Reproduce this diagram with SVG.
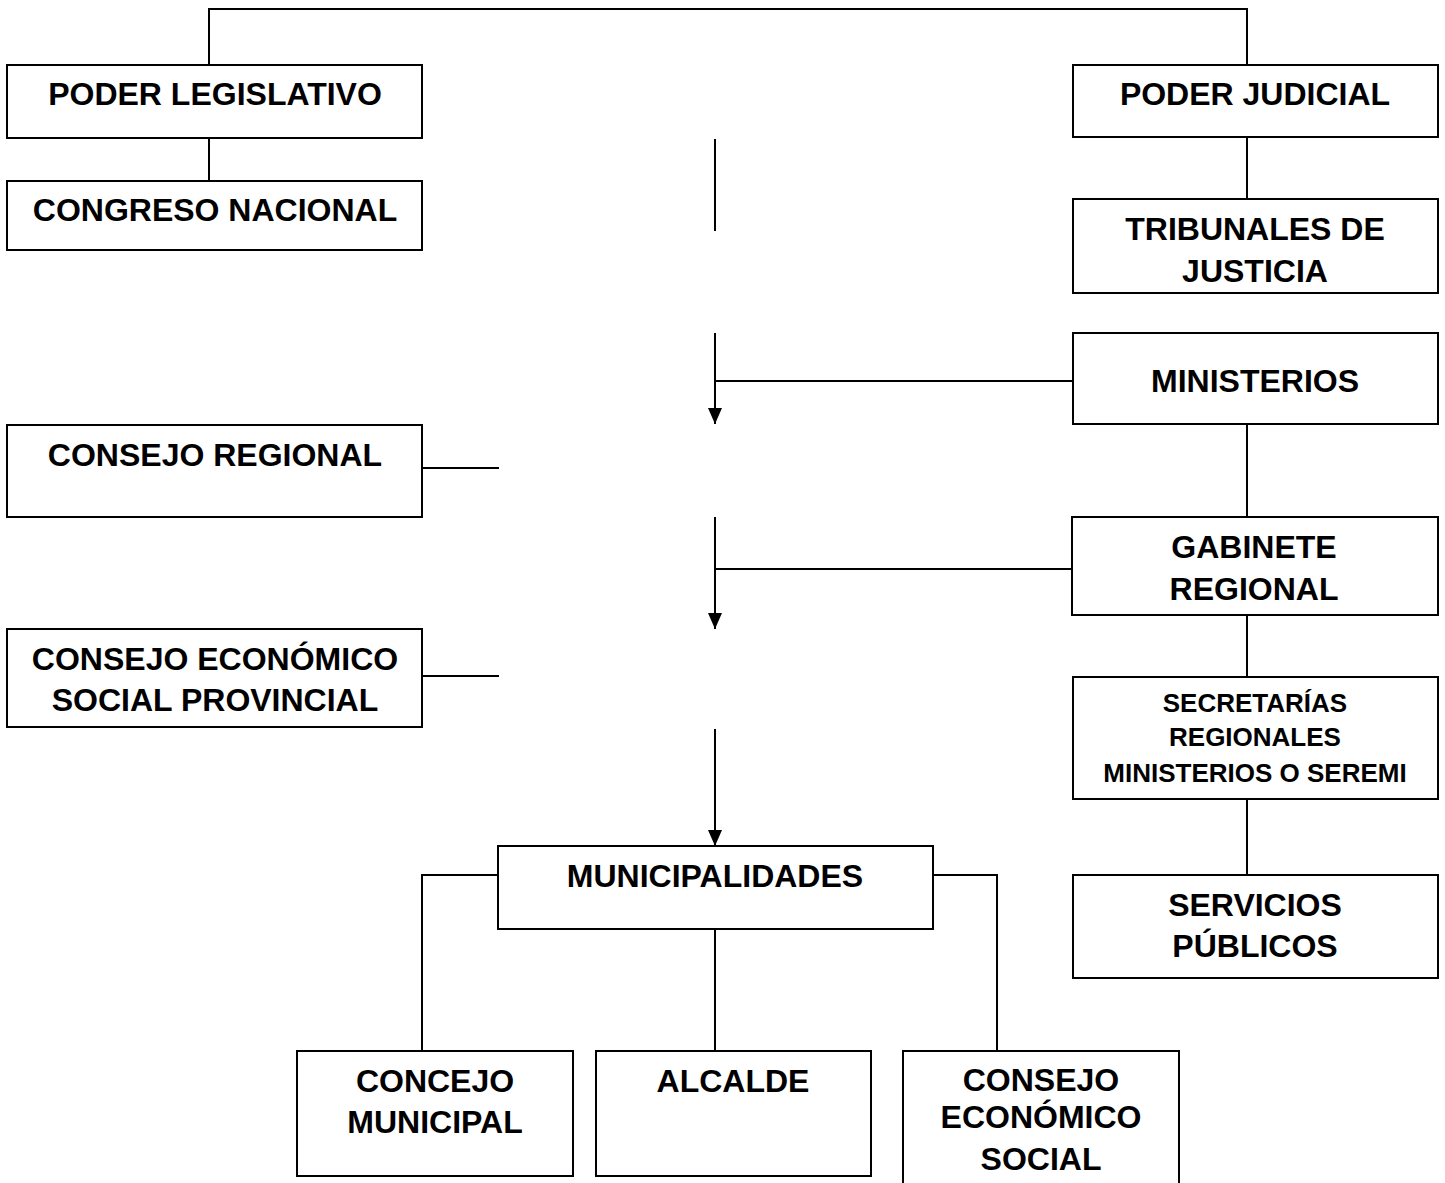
<svg xmlns="http://www.w3.org/2000/svg" width="1445" height="1183" viewBox="0 0 1445 1183">
<style>
.box{fill:#fff;stroke:#000;stroke-width:2}
.ln{fill:none;stroke:#000;stroke-width:2}
.t{font-family:"Liberation Sans",Arial,sans-serif;font-weight:bold;font-size:32px;text-anchor:middle;fill:#000}
.s{font-size:26px}
</style>
<defs>
<marker id="arr" viewBox="0 0 16 14" markerWidth="16" markerHeight="14" refX="16" refY="7" orient="auto" markerUnits="userSpaceOnUse">
<path d="M0,0 L16,7 L0,14 z" fill="#000"/>
</marker>
</defs>
<rect width="1445" height="1183" fill="#fff"/>
<g id="connectors">
<path class="ln" d="M209,65 V9 H1247 V65"/>
<path class="ln" d="M209,138 V181"/>
<path class="ln" d="M1247,137 V199"/>
<path class="ln" d="M715,139 V231"/>
<path class="ln" d="M715,333 V424" marker-end="url(#arr)"/>
<path class="ln" d="M715,381 H1073"/>
<path class="ln" d="M1247,424 V517"/>
<path class="ln" d="M422,468 H499"/>
<path class="ln" d="M715,517 V629" marker-end="url(#arr)"/>
<path class="ln" d="M715,569 H1072"/>
<path class="ln" d="M422,676 H499"/>
<path class="ln" d="M1247,615 V677"/>
<path class="ln" d="M1247,799 V875"/>
<path class="ln" d="M715,729 V846" marker-end="url(#arr)"/>
<path class="ln" d="M498,875 H422 V1051"/>
<path class="ln" d="M933,875 H997 V1051"/>
<path class="ln" d="M715,929 V1051"/>
</g>
<g id="poder-legislativo"><rect class="box" x="7" y="65" width="415" height="73"/><text class="t" x="215" y="105">PODER LEGISLATIVO</text></g>
<g id="congreso-nacional"><rect class="box" x="7" y="181" width="415" height="69"/><text class="t" x="215" y="221">CONGRESO NACIONAL</text></g>
<g id="poder-judicial"><rect class="box" x="1073" y="65" width="365" height="72"/><text class="t" x="1255" y="105">PODER JUDICIAL</text></g>
<g id="tribunales"><rect class="box" x="1073" y="199" width="365" height="94"/><text class="t" x="1255" y="240">TRIBUNALES DE</text><text class="t" x="1255" y="282">JUSTICIA</text></g>
<g id="ministerios"><rect class="box" x="1073" y="333" width="365" height="91"/><text class="t" x="1255" y="392">MINISTERIOS</text></g>
<g id="consejo-regional"><rect class="box" x="7" y="425" width="415" height="92"/><text class="t" x="215" y="466">CONSEJO REGIONAL</text></g>
<g id="gabinete-regional"><rect class="box" x="1072" y="517" width="366" height="98"/><text class="t" x="1254" y="558">GABINETE</text><text class="t" x="1254" y="600">REGIONAL</text></g>
<g id="consejo-economico-provincial"><rect class="box" x="7" y="629" width="415" height="98"/><text class="t" x="215" y="670">CONSEJO ECONÓMICO</text><text class="t" x="215" y="711">SOCIAL PROVINCIAL</text></g>
<g id="seremi"><rect class="box" x="1073" y="677" width="365" height="122"/><text class="t s" x="1255" y="712">SECRETARÍAS</text><text class="t s" x="1255" y="746">REGIONALES</text><text class="t s" x="1255" y="782">MINISTERIOS O SEREMI</text></g>
<g id="servicios-publicos"><rect class="box" x="1073" y="875" width="365" height="103"/><text class="t" x="1255" y="916">SERVICIOS</text><text class="t" x="1255" y="957">PÚBLICOS</text></g>
<g id="municipalidades"><rect class="box" x="498" y="846" width="435" height="83"/><text class="t" x="715" y="887">MUNICIPALIDADES</text></g>
<g id="concejo-municipal"><rect class="box" x="297" y="1051" width="276" height="125"/><text class="t" x="435" y="1092">CONCEJO</text><text class="t" x="435" y="1133">MUNICIPAL</text></g>
<g id="alcalde"><rect class="box" x="596" y="1051" width="275" height="125"/><text class="t" x="733" y="1092">ALCALDE</text></g>
<g id="consejo-economico-social"><rect class="box" x="903" y="1051" width="276" height="140"/><text class="t" x="1041" y="1091">CONSEJO</text><text class="t" x="1041" y="1128">ECONÓMICO</text><text class="t" x="1041" y="1170">SOCIAL</text></g>
</svg>
